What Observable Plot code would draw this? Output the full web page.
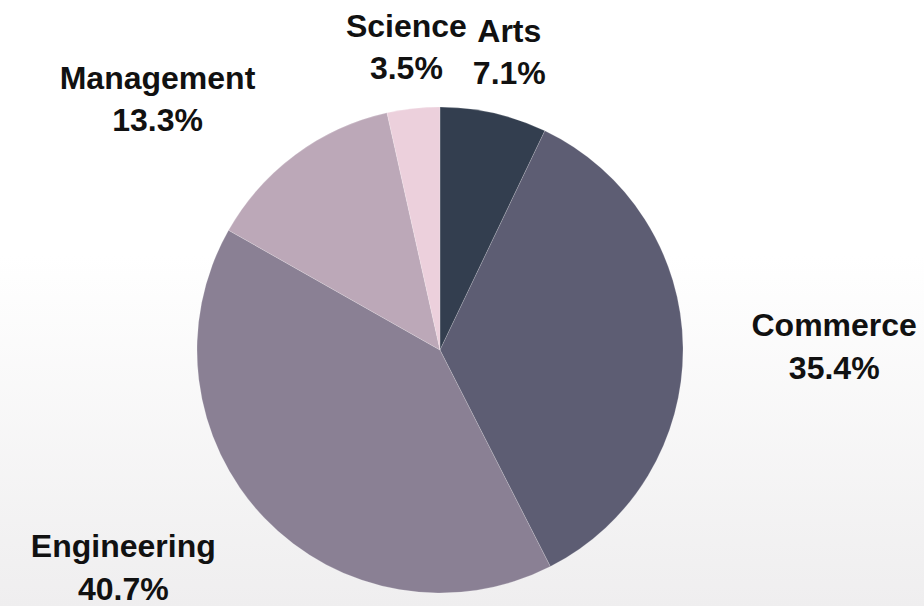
<!DOCTYPE html>
<html><head><meta charset="utf-8">
<script src="https://cdn.jsdelivr.net/npm/d3@7"></script>
<script src="https://cdn.jsdelivr.net/npm/@observablehq/plot@0.6"></script>
<style>
html,body{margin:0;padding:0;}
body{width:924px;height:606px;overflow:hidden;background:linear-gradient(to bottom,#ffffff 0%,#ffffff 42%,#efeeef 100%);}
#chart svg{display:block;}
</style></head><body><div id="chart"></div>
<script>
// ---- data ----
const categories = ["Arts", "Commerce", "Engineering", "Management", "Science"];
const shares = [7.1, 35.4, 40.7, 13.3, 3.5];
const percentLabels = ["7.1%", "35.4%", "40.7%", "13.3%", "3.5%"];
const sliceColors = ["#333e4f", "#5d5d73", "#8a8094", "#bca8b8", "#ecd0dc"];

// ---- layout ----
const W = 924, H = 606;
const margin = {left: 197, right: 241, top: 107, bottom: 13};
const R = (W - margin.left - margin.right) / 2;
const fontSize = 32, lineHeight = 1.32;
const font = `bold ${fontSize}px "Liberation Sans", Arial, sans-serif`;

const data = categories.map((c, i) => ({category: c, share: shares[i], pct: percentLabels[i]}));
const arcs = d3.pie().sort(null).value(d => d.share)(data);
const colorScale = Plot.scale({color: {type: "ordinal", domain: categories, range: sliceColors}});

const ctx = document.createElement("canvas").getContext("2d");
ctx.font = font;
const blockH = fontSize * 0.716 + fontSize * lineHeight; // cap top to last baseline

const labels = arcs.map(a => {
  const mid = (a.startAngle + a.endAngle) / 2;
  const ux = Math.sin(mid), uy = Math.cos(mid); // data coords, y up
  const px = 1.28 * ux, py = (uy >= 0 ? 1.12 : 1.10) * uy;
  const w = Math.max(ctx.measureText(a.data.category).width, ctx.measureText(a.data.pct).width);
  let x = px, y = py;
  if (ux > 0.3) x = px + w / 2 / R; else if (ux < -0.3) x = px - w / 2 / R;
  if (uy > 0.3) y = py + blockH / 2 / R; else if (uy < -0.3) y = py - blockH / 2 / R;
  return {x, y, text: a.data.category + "\n" + a.data.pct};
});

function pieSlices(index, scales) {
  const cx = scales.x(0), cy = scales.y(0), r = scales.x(1) - scales.x(0);
  const arc = d3.arc().innerRadius(0).outerRadius(r);
  const g = d3.create("svg:g").attr("transform", `translate(${cx},${cy})`);
  g.selectAll("path").data(arcs).join("path")
    .attr("d", arc)
    .attr("fill", d => colorScale.apply(d.data.category))
    .attr("stroke", "#ffffff").attr("stroke-width", 0.5).attr("stroke-opacity", 0.35);
  return g.node();
}

const chart = Plot.plot({
  width: W, height: H,
  marginLeft: margin.left, marginRight: margin.right, marginTop: margin.top, marginBottom: margin.bottom,
  x: {domain: [-1, 1], axis: null},
  y: {domain: [-1, 1], axis: null},
  style: {background: "transparent", overflow: "visible"},
  marks: [
    pieSlices,
    Plot.text(labels, {
      x: "x", y: "y", text: "text", dy: -3,
      fontSize, fontWeight: "bold", fontFamily: '"Liberation Sans", Arial, sans-serif',
      fill: "#111111", textAnchor: "middle", lineAnchor: "middle", lineHeight
    })
  ]
});
document.getElementById("chart").appendChild(chart);
</script>
</body></html>
